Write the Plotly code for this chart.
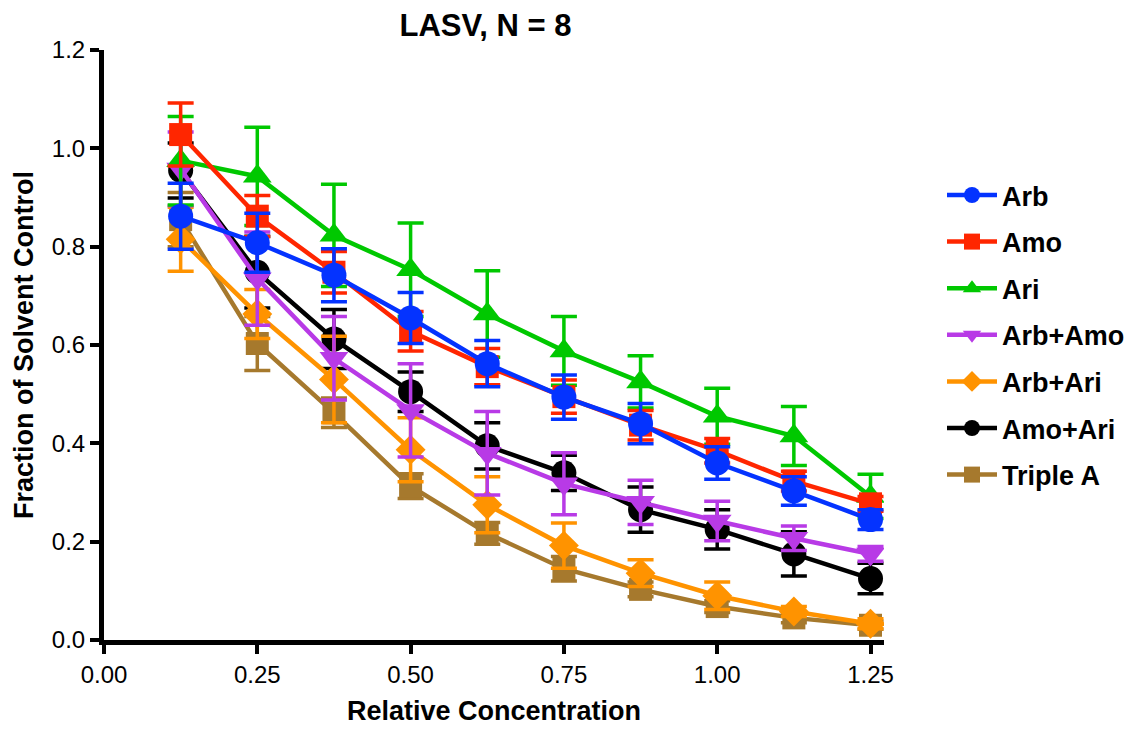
import plotly.graph_objects as go

conc = [0.125, 0.25, 0.375, 0.5, 0.625, 0.75, 0.875, 1.0, 1.125, 1.25]

series_names = ["Arb", "Amo", "Ari", "Arb+Amo", "Arb+Ari", "Amo+Ari", "Triple A"]

arb = [0.862, 0.808, 0.742, 0.655, 0.562, 0.494, 0.440, 0.360, 0.303, 0.245]
arb_err = [0.067, 0.060, 0.054, 0.052, 0.047, 0.045, 0.041, 0.033, 0.029, 0.020]

amo = [1.028, 0.862, 0.748, 0.628, 0.556, 0.495, 0.437, 0.385, 0.323, 0.277]
amo_err = [0.064, 0.042, 0.042, 0.040, 0.037, 0.034, 0.030, 0.025, 0.020, 0.015]

ari = [0.975, 0.943, 0.823, 0.753, 0.663, 0.588, 0.525, 0.455, 0.415, 0.292]
ari_err = [0.090, 0.100, 0.104, 0.095, 0.088, 0.070, 0.053, 0.057, 0.060, 0.045]

arb_amo = [0.958, 0.735, 0.573, 0.467, 0.380, 0.318, 0.280, 0.242, 0.207, 0.175]
arb_amo_err = [0.075, 0.095, 0.085, 0.095, 0.085, 0.063, 0.045, 0.040, 0.025, 0.015]

arb_ari = [0.815, 0.663, 0.530, 0.387, 0.275, 0.192, 0.136, 0.090, 0.058, 0.033]
arb_ari_err = [0.065, 0.050, 0.088, 0.065, 0.057, 0.046, 0.027, 0.028, 0.010, 0.010]

amo_ari = [0.955, 0.748, 0.612, 0.505, 0.395, 0.340, 0.265, 0.225, 0.175, 0.125]
amo_ari_err = [0.056, 0.073, 0.060, 0.040, 0.047, 0.036, 0.046, 0.040, 0.045, 0.031]

triple_a = [0.855, 0.603, 0.462, 0.313, 0.217, 0.145, 0.103, 0.068, 0.045, 0.030]
triple_a_err = [0.055, 0.055, 0.030, 0.025, 0.022, 0.025, 0.015, 0.012, 0.010, 0.008]

x_tick_vals = [0, 0.25, 0.5, 0.75, 1.0, 1.25]
x_tick_text = ["0.00", "0.25", "0.50", "0.75", "1.00", "1.25"]
y_tick_vals = [0, 0.2, 0.4, 0.6, 0.8, 1.0, 1.2]
y_tick_text = ["0.0", "0.2", "0.4", "0.6", "0.8", "1.0", "1.2"]

values = [arb, amo, ari, arb_amo, arb_ari, amo_ari, triple_a]
errors = [arb_err, amo_err, ari_err, arb_amo_err, arb_ari_err, amo_ari_err, triple_a_err]
colors = ["#0433FF", "#FF2600", "#00C800", "#B83AE6", "#FF9300", "#000000", "#A6792D"]
symbols = ["circle", "square", "triangle-up", "triangle-down", "diamond", "circle", "square"]
sizes = [25, 23, 25, 25, 23, 25, 23]

fig = go.Figure()
# draw in reverse so that the first series ends on top
for i in reversed(range(len(series_names))):
    fig.add_trace(go.Scatter(
        x=conc, y=values[i], name=series_names[i],
        mode="lines+markers",
        line=dict(color=colors[i], width=4.5),
        marker=dict(color=colors[i], symbol=symbols[i], size=sizes[i], line=dict(width=0)),
        error_y=dict(type="data", array=errors[i], visible=True, color=colors[i],
                     thickness=3.5, width=13),
        legendgroup=series_names[i],
        legendrank=i + 1,
    ))

font_family = "Liberation Sans, Arial, Helvetica, sans-serif"

W, H = 1124, 721
fig.update_layout(
    width=W, height=H,
    margin=dict(l=96, r=248, t=42, b=89, autoexpand=False),
    paper_bgcolor="white", plot_bgcolor="white",
    title=dict(text="<b>LASV, N = 8</b>", x=477.5 / W, xanchor="center",
               y=1 - 17 / H, yanchor="middle",
               font=dict(family=font_family, size=31, color="black")),
    font=dict(family=font_family, color="black"),
    showlegend=True,
    legend=dict(x=(942 - 104) / 780, xanchor="left", y=0.795, yanchor="top",
                font=dict(family=font_family, size=27, color="black", weight="bold"),
                tracegroupgap=8.5, itemsizing="trace", itemwidth=50,
                bgcolor="rgba(0,0,0,0)"),
    xaxis=dict(range=[0, 1.272], tickmode="array", automargin=False,
               tickvals=x_tick_vals, ticktext=x_tick_text,
               showgrid=False, zeroline=False, showline=True, linecolor="black", linewidth=5,
               ticks="outside", ticklen=9, tickwidth=4, tickcolor="black",
               tickfont=dict(size=24, family=font_family),
               title=dict(text="<b>Relative Concentration</b>", standoff=16,
                          font=dict(size=27, family=font_family))),
    yaxis=dict(range=[0, 1.2], tickmode="array", automargin=False,
               tickvals=y_tick_vals, ticktext=y_tick_text,
               showgrid=False, zeroline=False, showline=True, linecolor="black", linewidth=5,
               ticks="outside", ticklen=9, tickwidth=4, tickcolor="black",
               tickfont=dict(size=24, family=font_family),
               title=dict(text="<b>Fraction of Solvent Control</b>", standoff=12,
                          font=dict(size=27, family=font_family))),
)

fig.write_html("out.html")
